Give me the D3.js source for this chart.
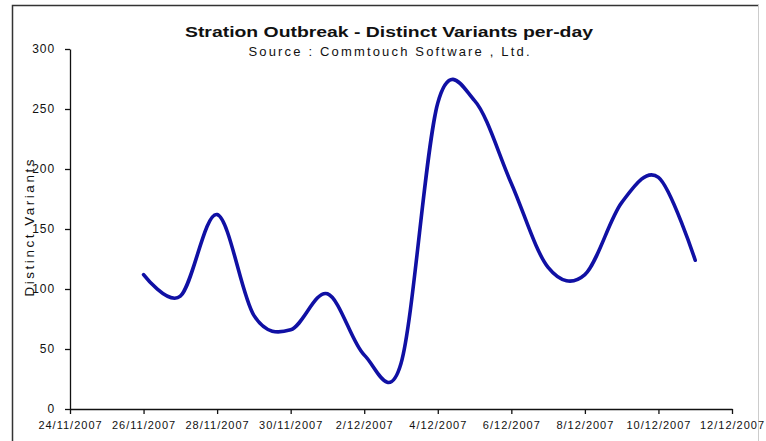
<!DOCTYPE html>
<html>
<head>
<meta charset="utf-8">
<script src="https://cdn.jsdelivr.net/npm/d3@7"></script>
<style>
  body { margin: 0; background: #fff; }
  text { font-family: "Liberation Sans", Arial, sans-serif; fill: #111; }
</style>
</head>
<body>
<div id="graph"></div>
<script>
// daily distinct variants
var days = ["26/11/2007", "27/11/2007", "28/11/2007", "29/11/2007", "30/11/2007", "1/12/2007",
            "2/12/2007", "3/12/2007", "4/12/2007", "5/12/2007", "6/12/2007", "7/12/2007",
            "8/12/2007", "9/12/2007", "10/12/2007", "11/12/2007"];
var variants = [112, 94, 162, 78, 66, 96, 45, 38, 255, 257, 188, 118, 112, 172, 193, 124];

var xTickLabels = ["24/11/2007", "26/11/2007", "28/11/2007", "30/11/2007", "2/12/2007",
                   "4/12/2007", "6/12/2007", "8/12/2007", "10/12/2007", "12/12/2007"];
var yTicks = [0, 50, 100, 150, 200, 250, 300];

var titleText = "Stration Outbreak - Distinct Variants per-day";
var subtitleText = "Source : Commtouch Software , Ltd.";
var yTitle = "Distinct Variants";

// set the dimensions and margins of the graph
var W = 766, H = 441;
var margin = {top: 49, left: 70, right: 34, bottom: 32};
var width = W - margin.left - margin.right,
    height = H - margin.top - margin.bottom;

var parseDate = d3.timeParse("%d/%m/%Y");

var data = days.map(function(d, i) { return [parseDate(d), variants[i]]; });
var tickDates = xTickLabels.map(parseDate);

var x = d3.scaleTime().domain([tickDates[0], tickDates[tickDates.length - 1]]).range([0, width]);
var y = d3.scaleLinear().domain([0, 300]).range([height, 0]);

var svg = d3.select("#graph").append("svg")
    .attr("width", W)
    .attr("height", H);

// outer frame of the chart area
svg.append("path")
    .attr("d", "M12.5,446V5.5H759")
    .attr("fill", "none")
    .attr("stroke", "#333")
    .attr("stroke-width", 1.5);
svg.append("line")
    .attr("x1", 758.5).attr("x2", 758.5).attr("y1", 5).attr("y2", 446)
    .attr("stroke", "#ccc");

// titles
svg.append("text")
    .attr("x", 389).attr("y", 37)
    .attr("text-anchor", "middle")
    .attr("textLength", 408).attr("lengthAdjust", "spacingAndGlyphs")
    .style("font-size", "15.5px").style("font-weight", "bold")
    .text(titleText);

svg.append("text")
    .attr("x", 389).attr("y", 56)
    .attr("text-anchor", "middle")
    .attr("textLength", 281).attr("lengthAdjust", "spacing")
    .style("font-size", "13px")
    .text(subtitleText);

var g = svg.append("g")
    .attr("transform", "translate(" + margin.left + "," + margin.top + ")");

// x axis
var xAxis = g.append("g")
    .attr("transform", "translate(0," + height + ")")
    .call(d3.axisBottom(x)
      .tickValues(tickDates)
      .tickSizeInner(5)
      .tickSizeOuter(0)
      .tickFormat(function(d, i) { return xTickLabels[i]; }));

// y axis
var yAxis = g.append("g")
    .call(d3.axisLeft(y)
      .tickValues(yTicks)
      .tickSizeInner(5)
      .tickSizeOuter(0)
      .tickPadding(10));

g.selectAll(".domain, .tick line").attr("stroke", "#111").attr("stroke-width", 1.3);
xAxis.selectAll("text")
    .style("font-size", "11px")
    .style("letter-spacing", "1px")
    .attr("dy", "1.05em")
    .attr("fill", "#111");
yAxis.selectAll("text")
    .style("font-size", "12px")
    .style("letter-spacing", "0.9px")
    .attr("fill", "#111");

// y axis title (drawn over the tick labels like the original)
svg.append("text")
    .attr("transform", "translate(34,228) rotate(-90)")
    .attr("text-anchor", "middle")
    .attr("textLength", 137).attr("lengthAdjust", "spacing")
    .style("font-size", "13.5px")
    .text(yTitle);

// define the smoothed line
var valueline = d3.line()
    .curve(d3.curveCardinal.tension(0))
    .x(function(d) { return x(d[0]); })
    .y(function(d) { return y(d[1]); });

g.append("path")
    .data([data])
    .attr("fill", "none")
    .attr("stroke", "#1010a4")
    .attr("stroke-width", 3.6)
    .attr("stroke-linejoin", "round")
    .attr("stroke-linecap", "round")
    .attr("d", valueline);
</script>
</body>
</html>
